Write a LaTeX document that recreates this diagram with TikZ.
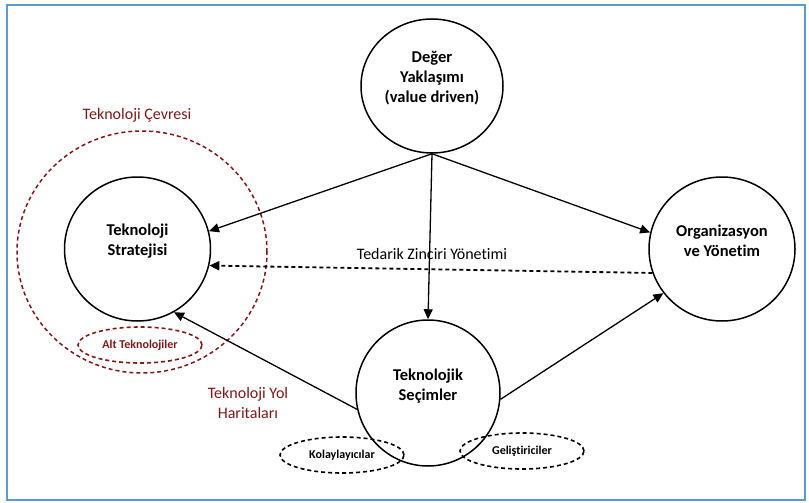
\documentclass[tikz,border=0pt]{standalone}
\usepackage{fontspec}
\setmainfont{Carlito}[Ligatures=NoCommon]
\usetikzlibrary{shapes.geometric,arrows.meta}
\definecolor{tred}{RGB}{128,24,24}
\definecolor{fblue}{RGB}{91,155,213}
\begin{document}
\begin{tikzpicture}[x=1pt,y=-1pt,
  bub/.style={ellipse,draw,line width=1.5pt,inner sep=0pt},
  lbl/.style={font=\bfseries\fontsize{16.5}{20}\selectfont,align=center},
  rlbl/.style={text=tred,font=\fontsize{16}{20}\selectfont,align=center},
  dsh/.style={dash pattern=on 4pt off 3pt},
  sub/.style={ellipse,draw,dsh,line width=1.6pt,inner sep=0pt,minimum width=124pt,minimum height=36pt,font=\bfseries\fontsize{12}{14}\selectfont},
  arr/.style={line width=1.3pt,-{Triangle[length=10pt,width=9pt]}}]
\useasboundingbox (0,0) rectangle (809,503);
\draw[fblue,line width=2pt] (7,5) rectangle (805,500);

\node[bub,minimum width=142pt,minimum height=134pt] (deger) at (432,86) {};
\node[lbl] (degerT) at (432,78) {Değer\\Yaklaşımı\\(value driven)};
\node[bub,minimum width=146pt,minimum height=144pt] (strat) at (137.5,249) {};
\node[lbl] (stratT) at (137.5,241) {Teknoloji\\Stratejisi};
\node[bub,minimum width=146pt,minimum height=144pt] (org) at (722,249) {};
\node[lbl] (orgT) at (722,241) {Organizasyon\\ve Yönetim};
\node[bub,minimum width=144pt,minimum height=146pt] (sec) at (428,393) {};
\node[lbl] (secT) at (428,386) {Teknolojik\\Seçimler};

\node[ellipse,draw=tred,dsh,line width=1.5pt,inner sep=0pt,minimum width=250pt,minimum height=242pt] (cevre) at (142,252) {};
\node[sub,draw=tred,text=tred] (alt) at (140,345) {Alt Teknolojiler};
\node[sub] (kol) at (342,455) {Kolaylayıcılar};
\node[sub] (gel) at (522,451) {Geliştiriciler};

\node[rlbl] (cevreT) at (137,115) {Teknoloji Çevresi};
\node[rlbl] (yol) at (248,403) {Teknoloji Yol\\Haritaları};
\node[font=\fontsize{16}{20}\selectfont] (ted) at (432,254) {Tedarik Zinciri Yönetimi};

\draw[arr] (deger.south) -- (strat.14);
\draw[arr] (deger.south) -- (org.167);
\draw[arr] (deger.south) -- (sec.north);
\draw[arr,dsh,line width=1.8pt] (org.199) -- (strat.347);
\draw[arr] (sec.193) -- (strat.300);
\draw[arr] (sec.355) -- (org.217);
\end{tikzpicture}
\end{document}
